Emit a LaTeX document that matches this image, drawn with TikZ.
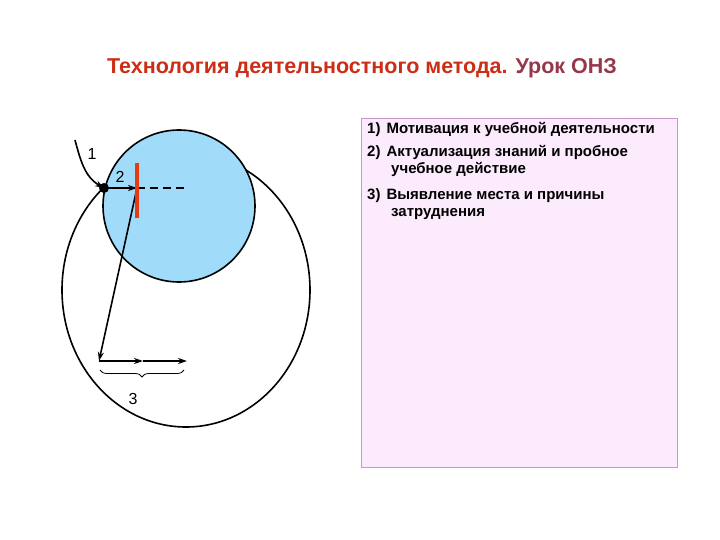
\documentclass[tikz,border=0pt]{standalone}
\usepackage{fontspec}
\setmainfont{Liberation Sans}
\usetikzlibrary{arrows.meta,decorations.pathreplacing}
\definecolor{titlered}{RGB}{205,45,20}
\definecolor{titlepurple}{RGB}{150,55,75}
\definecolor{lightblue}{RGB}{160,220,250}
\definecolor{boxpink}{RGB}{252,235,252}
\definecolor{boxedge}{RGB}{200,150,200}
\definecolor{barred}{RGB}{230,60,20}
\begin{document}
\begin{tikzpicture}[x=1pt,y=-1pt,
  line/.style={black,line width=1.6pt},
  arr/.style={line,-{Stealth[length=9pt,width=6pt]}},
  lbl/.style={font=\fontsize{16}{18}\selectfont},
  item/.style={font=\fontsize{15}{17.5}\selectfont\bfseries,anchor=north west,align=left,inner sep=0pt}]
\useasboundingbox (0,0) rectangle (720,540);
\node (title) at (362,68) {\fontsize{21.5}{24}\selectfont\bfseries\textcolor{titlered}{Технология деятельностного метода.} \textcolor{titlepurple}{Урок ОНЗ}};
% big circle
\draw[line] (186,290) ellipse [x radius=124, y radius=137];
% blue circle
\draw[line,fill=lightblue] (179,206) circle [radius=76];
\coordinate (dot) at (104,188);
\coordinate (bar) at (137,188);
\coordinate (dashend) at (184,188);
\coordinate (low) at (99,361);
\coordinate (mid) at (143,361);
\coordinate (right) at (187,361);
\coordinate (start) at (75,140);
\draw[line,dash pattern=on 8pt off 5pt] (bar) -- (dashend);
\draw[arr] (dot) -- (bar);
\draw[arr] (bar) -- (low);
\draw[arr] (low) -- (mid);
\draw[arr] (mid) -- (right);
\draw[arr] (start) to[out=-75,in=150] (dot);
\fill (dot) circle [radius=5];
\draw[barred,line width=4.5pt] (137,163) -- (137,218);
\draw[decorate,decoration={brace,mirror,amplitude=7pt},line width=0.8pt] (100,370) -- (184,370);
\node[lbl] (l1) at (92,154) {1};
\node[lbl] (l2) at (120,177) {2};
\node[lbl] (l3) at (133,399) {3};
% right box
\draw[boxedge,fill=boxpink,line width=0.8pt] (361,118) rectangle (677,467);
\node[item] (i1) at (367,122) {1)\hspace{6pt}Мотивация к учебной деятельности};
\node[item] (i2) at (367,145) {2)\hspace{6pt}Актуализация знаний и пробное\\\hspace{24pt}учебное действие};
\node[item] (i3) at (367,188) {3)\hspace{6pt}Выявление места и причины\\\hspace{24pt}затруднения};
\end{tikzpicture}
\end{document}
